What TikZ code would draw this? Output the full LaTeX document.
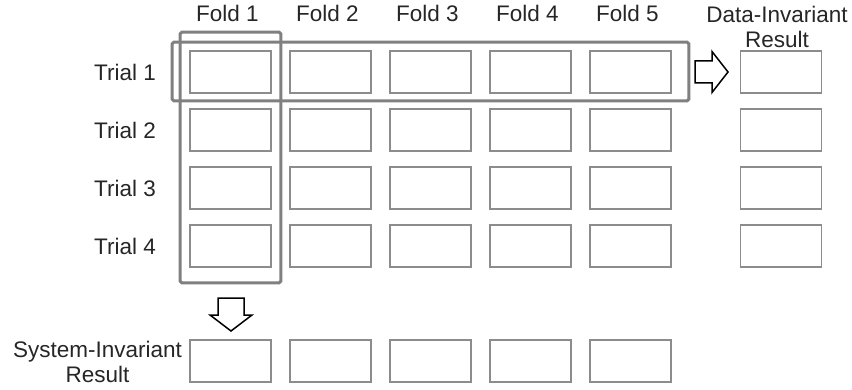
\documentclass[tikz,border=0pt]{standalone}
\usepackage{fontspec}
\setmainfont{Liberation Sans}
\usetikzlibrary{calc}
\begin{document}
\begin{tikzpicture}[x=1pt,y=1pt,
  cell/.style={
    draw=gray!90,
    line width=1.6pt,
    minimum width=81pt,
    minimum height=42pt,
    inner sep=0pt
  },
  band/.style={
    draw=gray,
    line width=3pt,
    rounded corners=1.5pt
  },
  hollow/.style={
    draw=black,
    line width=1.5pt,
    fill=white
  },
  lbl/.style={
    font=\fontsize{22.5}{24.5}\selectfont,
    text=black!85,
    inner sep=0pt
  }
]
\useasboundingbox (0,0) rectangle (852,389);
% Folds across, trials down.
\foreach \c in {1,...,5}
  \node[lbl] (fold-\c) at ({127.5+100*\c},376) {Fold \c};
\foreach \r/\y in {1/317,2/259,3/201,4/143} {
  \node[lbl,anchor=east] (trial-\r) at (156,\y) {Trial \r};
  \foreach \c in {1,...,5}
    \node[cell] (c-\r-\c) at ({130.5+100*\c},\y) {};
  \node[cell] (d-\r) at (781,\y) {};
}
\foreach \c in {1,...,5}
  \node[cell] (s-\c) at ({130.5+100*\c},28) {};
\node[lbl,align=center] (dres) at (777,362) {Data-Invariant\\Result};
\node[lbl,align=center] (sres) at (97.5,27) {System-Invariant\\Result};
% Highlighted fold and trial.
\draw[band] ($(c-1-1.north west)+(-9,18)$) rectangle ($(c-4-1.south east)+(9,-15)$);
\draw[band] ($(c-1-1.north west)+(-17,8)$) rectangle ($(c-1-5.south east)+(17,-7)$);
% Block arrows.
\draw[hollow] (695,328) -- (712,328) -- (712,337.5) -- (728,317)
  -- (712,296.5) -- (712,306) -- (695,306) -- cycle;
\draw[hollow] (218,91) -- (218,74) -- (210,74) -- (231,58)
  -- (252,74) -- (244,74) -- (244,91) -- cycle;
\end{tikzpicture}
\end{document}
